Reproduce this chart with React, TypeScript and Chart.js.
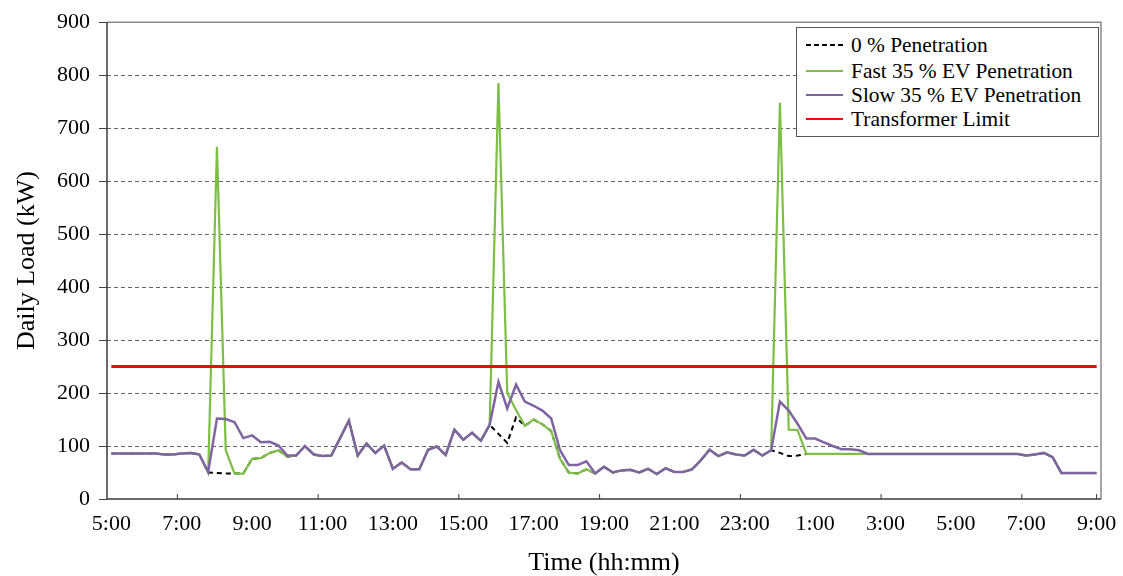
import React, { useEffect, useRef } from "react";
import { Chart, registerables } from "chart.js";

Chart.register(...registerables);

// Category axis: 15-minute steps from 5:00 to 9:00 the next day
const timeLabels: string[] = [];
for (let m = 5 * 60; m <= 33 * 60; m += 15) {
  const h = Math.floor(m / 60) % 24;
  const mm = m % 60;
  timeLabels.push(`${h}:${mm.toString().padStart(2, "0")}`);
}
const labelEvery = 8; // a label every 2 hours
const tickMarkEvery = 16; // a tick mark every 4 hours

const yTickValues = [0, 100, 200, 300, 400, 500, 600, 700, 800, 900];

const zeroPenetration = [
  86, 86, 86, 86, 86, 86, 84, 84, 86, 87,
  84, 50, 49, 48, 48, 48, 76, 77, 87, 92,
  80, 82, 100, 84, 81, 82, 115, 148, 82, 105,
  87, 101, 57, 69, 56, 56, 93, 99, 83, 131,
  112, 125, 110, 140, 123, 106, 154, 138, 150, 141,
  128, 76, 50, 48, 56, 48, 61, 50, 54, 55,
  50, 57, 47, 58, 51, 51, 56, 73, 93, 81,
  88, 84, 82, 93, 82, 92, 87, 81, 82, 85,
  85, 85, 85, 85, 85, 85, 85, 85, 85, 85,
  85, 85, 85, 85, 85, 85, 85, 85, 85, 85,
  85, 85, 85, 85, 82, 84, 87, 79, 49, 49,
  49, 49, 49,
];

const fast35 = [
  86, 86, 86, 86, 86, 86, 84, 84, 86, 87,
  84, 50, 665, 92, 48, 48, 76, 77, 87, 92,
  80, 82, 100, 84, 81, 82, 115, 148, 82, 105,
  87, 101, 57, 69, 56, 56, 93, 99, 83, 131,
  112, 125, 110, 140, 785, 200, 168, 138, 150, 141,
  128, 76, 50, 48, 56, 48, 61, 50, 54, 55,
  50, 57, 47, 58, 51, 51, 56, 73, 93, 81,
  88, 84, 82, 93, 82, 92, 748, 131, 130, 85,
  85, 85, 85, 85, 85, 85, 85, 85, 85, 85,
  85, 85, 85, 85, 85, 85, 85, 85, 85, 85,
  85, 85, 85, 85, 82, 84, 87, 79, 49, 49,
  49, 49, 49,
];

const slow35 = [
  86, 86, 86, 86, 86, 86, 84, 84, 86, 87,
  84, 51, 152, 151, 145, 115, 120, 107, 108, 101,
  82, 82, 100, 84, 81, 82, 115, 148, 82, 105,
  87, 101, 57, 69, 56, 56, 93, 99, 83, 131,
  112, 125, 110, 140, 221, 171, 216, 184, 176, 167,
  152, 92, 64, 64, 71, 48, 61, 50, 54, 55,
  50, 57, 47, 58, 51, 51, 56, 73, 93, 81,
  88, 84, 82, 93, 82, 92, 184, 167, 142, 114,
  114, 107, 100, 94, 94, 92, 85, 85, 85, 85,
  85, 85, 85, 85, 85, 85, 85, 85, 85, 85,
  85, 85, 85, 85, 82, 84, 87, 79, 49, 49,
  49, 49, 49,
];

const transformerLimit = 250;

const SERIF = "'Liberation Serif', 'Times New Roman', serif";
const GREEN = "#7dbf45";
const PURPLE = "#8064a2";
const RED = "#ff0000";

const framePlugin = {
  id: "frame",
  afterDatasetsDraw(chart: any) {
    const { ctx, chartArea, scales } = chart;
    const { left, right, top, bottom } = chartArea;
    ctx.save();
    ctx.setLineDash([]);
    ctx.strokeStyle = "#8a8a8a";
    ctx.lineWidth = 1.5;
    ctx.beginPath();
    ctx.moveTo(left, top);
    ctx.lineTo(right, top);
    ctx.lineTo(right, bottom);
    ctx.stroke();
    ctx.strokeStyle = "#3a3a3a";
    ctx.beginPath();
    ctx.moveTo(left, top);
    ctx.lineTo(left, bottom);
    ctx.lineTo(right, bottom);
    ctx.stroke();
    const x = scales.x;
    ctx.lineWidth = 1;
    for (let i = labelEvery; i < timeLabels.length; i += tickMarkEvery) {
      const px = (x.getPixelForTick(i) + x.getPixelForTick(i - 1)) / 2;
      ctx.beginPath();
      ctx.moveTo(px, bottom);
      ctx.lineTo(px, bottom - 5);
      ctx.stroke();
    }
    const lastPx = x.getPixelForTick(timeLabels.length - 1);
    ctx.beginPath();
    ctx.moveTo(lastPx, bottom);
    ctx.lineTo(lastPx, bottom - 5);
    ctx.stroke();
    ctx.restore();
  },
};

const legendItems = [
  { label: "0 % Penetration", color: "#000000", dash: "5,3", top: 45 },
  { label: "Fast 35 % EV Penetration", color: GREEN, dash: "", top: 71 },
  { label: "Slow 35 % EV Penetration", color: PURPLE, dash: "", top: 95 },
  { label: "Transformer Limit", color: RED, dash: "", top: 119 },
];

export default function App() {
  const canvasRef = useRef<HTMLCanvasElement | null>(null);

  useEffect(() => {
    if (!canvasRef.current) return;
    const chart = new Chart(canvasRef.current, {
      type: "line",
      data: {
        labels: timeLabels,
        datasets: [
          {
            label: "Transformer Limit",
            data: timeLabels.map(() => transformerLimit),
            borderColor: RED,
            borderWidth: 3,
            order: 0,
          },
          {
            label: "Slow 35 % EV Penetration",
            data: slow35,
            borderColor: PURPLE,
            borderWidth: 2.5,
            order: 1,
          },
          {
            label: "Fast 35 % EV Penetration",
            data: fast35,
            borderColor: GREEN,
            borderWidth: 2.2,
            order: 2,
          },
          {
            label: "0 % Penetration",
            data: zeroPenetration,
            borderColor: "#000000",
            borderWidth: 2,
            borderDash: [5, 4],
            order: 3,
          },
        ],
      },
      options: {
        responsive: false,
        animation: false,
        layout: { padding: { top: 22, right: 22, left: 0, bottom: 0 } },
        plugins: {
          legend: { display: false },
          tooltip: { enabled: false },
        },
        elements: {
          point: { radius: 0 },
          line: { tension: 0, fill: false },
        },
        scales: {
          x: {
            type: "category",
            offset: true,
            grid: { display: false, drawTicks: false, offset: true },
            border: { display: false },
            ticks: {
              autoSkip: false,
              maxRotation: 0,
              minRotation: 0,
              padding: 12,
              color: "#000",
              font: { family: SERIF, size: 22 },
              callback: (_v: any, i: number) =>
                i % labelEvery === 0 ? timeLabels[i] : "",
            },
            title: {
              display: true,
              text: "Time (hh:mm)",
              color: "#000",
              font: { family: SERIF, size: 26, lineHeight: 1 },
              padding: { top: 0, bottom: 0 },
            },
            afterFit: (s: any) => {
              s.height = 77;
              s.paddingLeft = 0;
              s.paddingRight = 0;
            },
          },
          y: {
            min: 0,
            max: 900,
            afterBuildTicks: (s: any) => {
              s.ticks = yTickValues.map((v) => ({ value: v }));
            },
            ticks: {
              padding: 9,
              color: "#000",
              font: { family: SERIF, size: 22 },
            },
            grid: {
              color: (ctx: any) =>
                ctx.tick && ctx.tick.value === 0 ? "rgba(0,0,0,0)" : "#666666",
              lineWidth: 1,
              tickColor: "#444444",
              tickLength: 8,
              tickBorderDash: [],
            },
            border: { display: false, dash: [4, 3] },
            title: {
              display: true,
              text: "Daily Load (kW)",
              color: "#000",
              font: { family: SERIF, size: 26, lineHeight: 1.2 },
              padding: { top: 12, bottom: 0 },
            },
            afterFit: (s: any) => {
              s.width = 107;
            },
          },
        },
      },
      plugins: [framePlugin],
    });
    return () => chart.destroy();
  }, []);

  return (
    <div
      style={{
        position: "absolute",
        left: 0,
        top: 0,
        width: 1123,
        height: 576,
        background: "#fff",
      }}
    >
      <canvas ref={canvasRef} width={1123} height={576} style={{ display: "block" }} />
      <div
        style={{
          position: "absolute",
          left: 796,
          top: 27,
          width: 303,
          height: 110,
          boxSizing: "border-box",
          border: "1px solid #555",
          background: "#fff",
        }}
      />
      {legendItems.map((it) => (
        <div
          key={it.label}
          style={{
            position: "absolute",
            left: 806,
            top: it.top - 12,
            height: 24,
            display: "flex",
            alignItems: "center",
            fontFamily: SERIF,
            fontSize: 21.4,
            color: "#000",
            whiteSpace: "nowrap",
          }}
        >
          <svg width={37} height={6} style={{ marginRight: 8, flex: "none" }}>
            <line
              x1={0}
              y1={3}
              x2={37}
              y2={3}
              stroke={it.color}
              strokeWidth={2}
              strokeDasharray={it.dash || undefined}
            />
          </svg>
          <span>{it.label}</span>
        </div>
      ))}
    </div>
  );
}
